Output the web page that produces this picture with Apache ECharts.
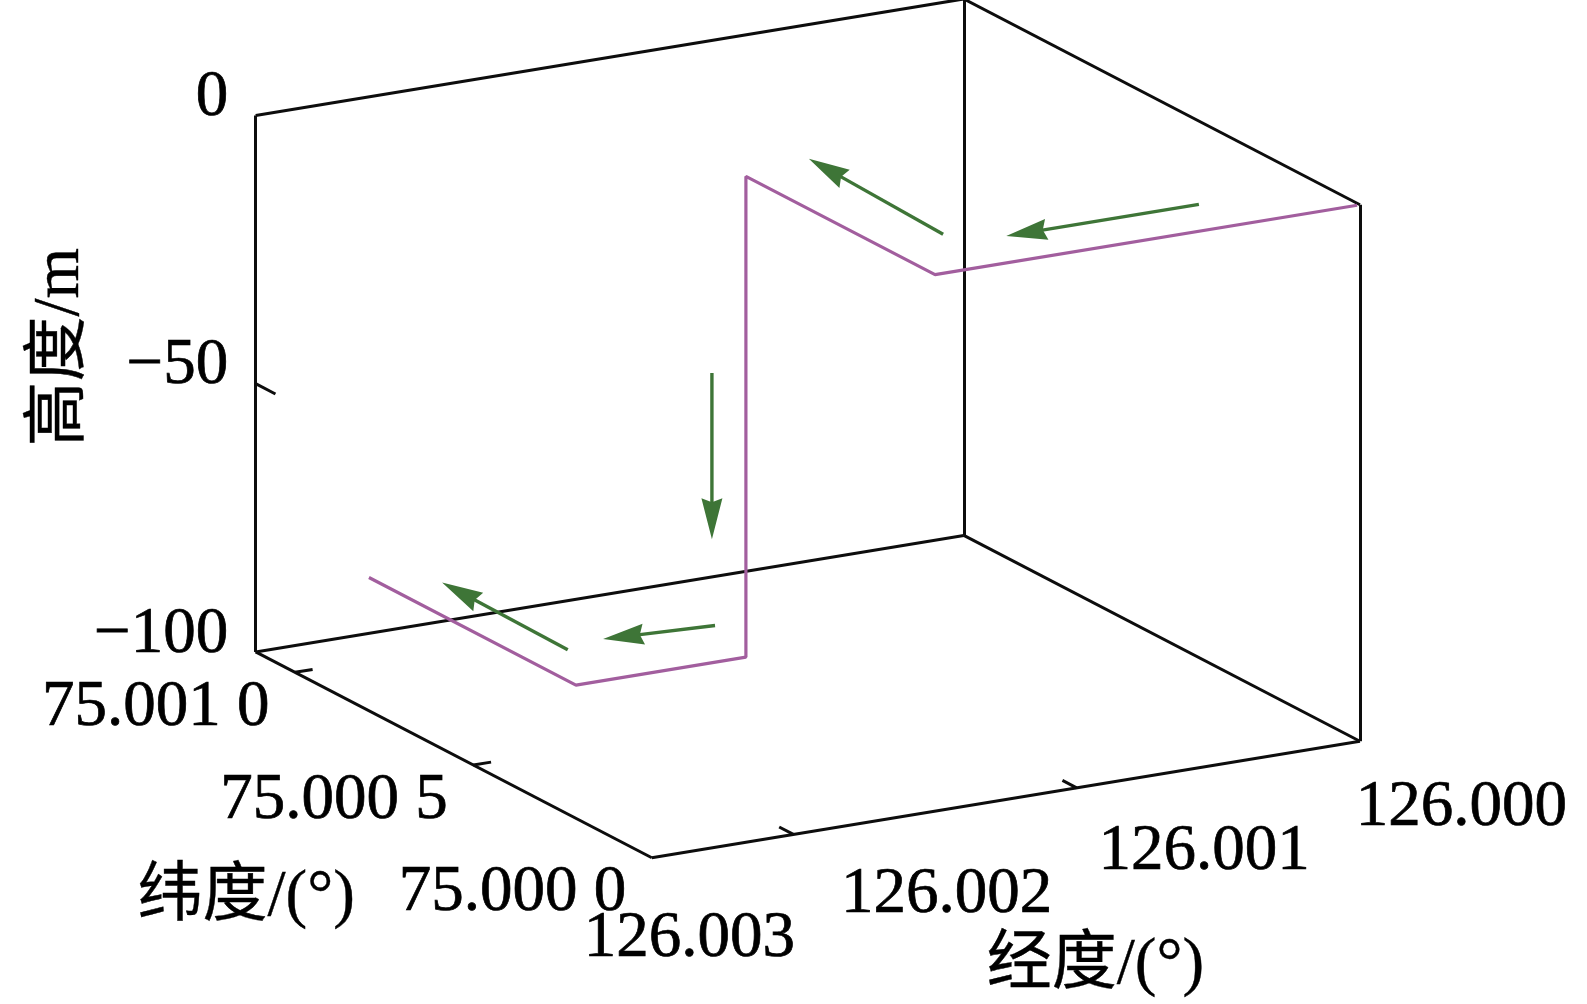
<!DOCTYPE html>
<html>
<head>
<meta charset="utf-8">
<title>航迹三维图</title>
<script src="https://cdn.jsdelivr.net/npm/echarts@6/dist/echarts.min.js"></script>
<style>
  html, body { margin: 0; padding: 0; background: #fff; }
  #main { width: 1587px; height: 1004px; }
</style>
</head>
<body>
<div id="main"></div>
<script>
// 航迹点：经度 / 纬度 / 高度
var trackLon = [126.00001, 126.0015, 126.0015, 126.0015, 126.0021, 126.0021];
var trackLat = [75.00000, 75.00000, 75.00053, 75.00053, 75.00053, 75.00111];
var trackDepth = [0, 0, 0, -89.6, -89.6, -89.6];

// 方向箭头：起点 / 终点 [经度, 纬度, 高度]
var arrowTail = [
  [126.00043, 75.00011, 0],
  [126.00127, 75.00016, 0],
  [126.00162, 75.00053, -35.6],
  [126.00142, 75.00068, -89.6],
  [126.00194, 75.00068, -89.6]
];
var arrowHead = [
  [126.00111, 75.00011, 0],
  [126.00124, 75.00056, 0],
  [126.00162, 75.00053, -66.6],
  [126.00179, 75.00070, -89.6],
  [126.00193, 75.00104, -89.6]
];

// 坐标轴范围与刻度
var lonRange = [126.0000, 126.0025];
var latRange = [75.0000, 75.00111];
var depthRange = [-100, 0];
var lonTicks = [126.003, 126.002, 126.001, 126.000];
var lonTickText = ['126.003', '126.002', '126.001', '126.000'];
var latTicks = [75.0010, 75.0005, 75.0000];
var latTickText = ['75.001 0', '75.000 5', '75.000 0'];
var depthTicks = [0, -50, -100];
var depthTickText = ['0', '\u221250', '\u2212100'];

// 视角：经度轴朝右、纬度轴朝左后方（屏幕像素）
var view = {
  origin: [651.8, 857.75],
  lonVec: [708.15, -116.5],
  latVec: [-396.15, -205.8],
  depthVec: [0, -536.5]
};

function proj(lon, lat, h) {
  var u = (lonRange[1] - lon) / (lonRange[1] - lonRange[0]);
  var v = (lat - latRange[0]) / (latRange[1] - latRange[0]);
  var w = (h - depthRange[0]) / (depthRange[1] - depthRange[0]);
  return [
    view.origin[0] + u * view.lonVec[0] + v * view.latVec[0] + w * view.depthVec[0],
    view.origin[1] + u * view.lonVec[1] + v * view.latVec[1] + w * view.depthVec[1]
  ];
}
function add(p, d) { return [p[0] + d[0], p[1] + d[1]]; }
function inside(t, r) { return t > Math.min(r[0], r[1]) + 1e-9 && t < Math.max(r[0], r[1]) - 1e-9; }

var lo = lonRange, la = latRange, dp = depthRange;
var lonSpan = lo[1] - lo[0], latSpan = la[1] - la[0];

// 坐标框
var boxEdges = [
  [[lo[1], la[1], dp[0]], [lo[1], la[1], dp[1]]],
  [[lo[0], la[1], dp[0]], [lo[0], la[1], dp[1]]],
  [[lo[0], la[0], dp[0]], [lo[0], la[0], dp[1]]],
  [[lo[1], la[1], dp[1]], [lo[0], la[1], dp[1]]],
  [[lo[0], la[1], dp[1]], [lo[0], la[0], dp[1]]],
  [[lo[1], la[0], dp[0]], [lo[0], la[0], dp[0]]],
  [[lo[1], la[0], dp[0]], [lo[1], la[1], dp[0]]],
  [[lo[1], la[1], dp[0]], [lo[0], la[1], dp[0]]],
  [[lo[0], la[1], dp[0]], [lo[0], la[0], dp[0]]]
].map(function (e) {
  return { coords: [proj(e[0][0], e[0][1], e[0][2]), proj(e[1][0], e[1][1], e[1][2])] };
});

// 刻度线（只画轴内的）
var tickLines = [];
lonTicks.forEach(function (t) {
  if (inside(t, lo)) tickLines.push({ coords: [proj(t, la[0], dp[0]), proj(t, la[0] + 0.036 * latSpan, dp[0])] });
});
latTicks.forEach(function (t) {
  if (inside(t, la)) tickLines.push({ coords: [proj(lo[1], t, dp[0]), proj(lo[1] - 0.025 * lonSpan, t, dp[0])] });
});
depthTicks.forEach(function (t) {
  if (inside(t, dp)) tickLines.push({ coords: [proj(lo[1], la[1], t), proj(lo[1], la[1] - 0.05 * latSpan, t)] });
});

var trackPts = trackLon.map(function (v, i) { return proj(v, trackLat[i], trackDepth[i]); });
var arrowData = arrowTail.map(function (a, i) {
  var s = proj(a[0], a[1], a[2]);
  var e = proj(arrowHead[i][0], arrowHead[i][1], arrowHead[i][2]);
  return [s[0], s[1], e[0], e[1]];
});

// 刻度标签位置
var lonLabelFrom = add(proj(lo[1], la[0], dp[0]), [38, 82]);
var lonLabelTo = add(proj(lo[0], la[0], dp[0]), [102, 67]);
var lonLabelPts = lonTicks.map(function (t, i) {
  var k = i / (lonTicks.length - 1);
  return [lonLabelFrom[0] + k * (lonLabelTo[0] - lonLabelFrom[0]), lonLabelFrom[1] + k * (lonLabelTo[1] - lonLabelFrom[1])];
});
var latLabelPts = latTicks.map(function (t) { return add(proj(lo[1], t, dp[0]), [-25, 36]); });
var depthLabelPts = depthTicks.map(function (t) { return add(proj(lo[1], la[1], t), [-27, -17]); });

var numFont = '"Liberation Serif", "Times New Roman", serif';
var titleFont = '"Liberation Serif", "Noto Sans CJK SC", serif';

function labelSeries(points, texts, label) {
  return {
    type: 'scatter',
    silent: true,
    symbolSize: 1,
    itemStyle: { color: 'rgba(0,0,0,0)' },
    data: points.map(function (p, i) { return { value: p, name: texts[i] }; }),
    label: Object.assign({
      show: true,
      position: [0, 0],
      verticalAlign: 'middle',
      formatter: '{b}',
      color: '#000',
      opacity: 1,
      textBorderColor: '#000',
      textBorderWidth: 0.7,
      fontFamily: numFont,
      fontSize: 65
    }, label)
  };
}

var chart = echarts.init(document.getElementById('main'));
var option = {
  animation: false,
  backgroundColor: '#fff',
  grid: { left: 0, right: 0, top: 0, bottom: 0 },
  xAxis: { type: 'value', min: 0, max: 1587, show: false },
  yAxis: { type: 'value', min: 0, max: 1004, inverse: true, show: false },
  series: [
    {
      type: 'lines', coordinateSystem: 'cartesian2d', silent: true,
      lineStyle: { color: '#0d0d0d', width: 3, opacity: 1, curveness: 0 },
      data: boxEdges
    },
    {
      type: 'lines', coordinateSystem: 'cartesian2d', silent: true,
      lineStyle: { color: '#0d0d0d', width: 3, opacity: 1, curveness: 0 },
      data: tickLines
    },
    {
      type: 'line', silent: true, symbol: 'none', clip: false,
      lineStyle: { color: '#A25E9E', width: 3.2 },
      data: trackPts
    },
    {
      type: 'custom', silent: true,
      encode: { x: [0, 2], y: [1, 3] },
      data: arrowData,
      renderItem: function (params, api) {
        var s = api.coord([api.value(0), api.value(1)]);
        var e = api.coord([api.value(2), api.value(3)]);
        var dx = e[0] - s[0], dy = e[1] - s[1];
        var len = Math.sqrt(dx * dx + dy * dy);
        var ux = dx / len, uy = dy / len;
        var headLen = 41, half = 10.5;   // 箭头长度、半宽
        var bx = e[0] - ux * headLen, by = e[1] - uy * headLen;
        return {
          type: 'group',
          children: [
            { type: 'line', shape: { x1: s[0], y1: s[1], x2: bx + ux * 6, y2: by + uy * 6 },
              style: { stroke: '#3E7537', lineWidth: 3.4 } },
            { type: 'polygon',
              shape: { points: [e, [bx - uy * half, by + ux * half], [bx + ux * 4, by + uy * 4], [bx + uy * half, by - ux * half]] },
              style: { fill: '#3E7537' } }
          ]
        };
      }
    },
    labelSeries(lonLabelPts, lonTickText, { align: 'center' }),
    labelSeries(latLabelPts, latTickText, { align: 'right' }),
    labelSeries(depthLabelPts, depthTickText, { align: 'right' }),
    // 坐标轴名称
    labelSeries([add(proj(lo[1], la[1], (dp[0] + dp[1]) / 2), [-194, -36])], ['高度/m'],
      { align: 'center', rotate: 90, fontFamily: titleFont, fontSize: 65, textBorderWidth: 0.4 }),
    labelSeries([add(proj(lo[1], (la[0] + la[1]) / 2, dp[0]), [-207, 144])], ['纬度/(°)'],
      { align: 'center', fontFamily: titleFont, fontSize: 65, textBorderWidth: 0.4 }),
    labelSeries([add(proj((lo[0] + lo[1]) / 2, la[0], dp[0]), [90, 167])], ['经度/(°)'],
      { align: 'center', fontFamily: titleFont, fontSize: 65, textBorderWidth: 0.4 })
  ]
};
chart.setOption(option);
</script>
</body>
</html>
